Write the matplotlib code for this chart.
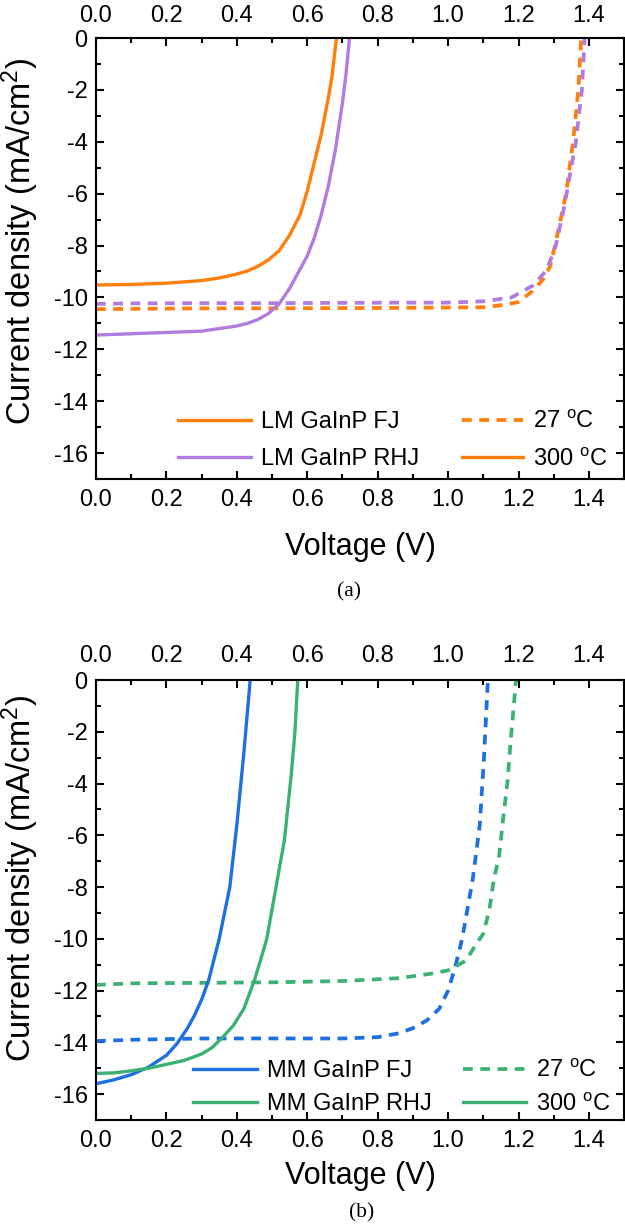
import numpy as np
import matplotlib
matplotlib.use("Agg")
import matplotlib.pyplot as plt
from matplotlib.ticker import MultipleLocator

plt.rcParams['font.family'] = ['Liberation Sans', 'DejaVu Sans']
plt.rcParams['mathtext.fontset'] = 'custom'
plt.rcParams['mathtext.rm'] = 'Liberation Sans'
plt.rcParams['mathtext.it'] = 'Liberation Sans:italic'

# ---- panel (a): lattice matched GaInP ----
v_lm_fj_27 = [0.0, 0.1, 0.3, 0.5, 0.7, 0.9, 1.1, 1.15, 1.2, 1.24, 1.27, 1.29, 1.31, 1.335, 1.355, 1.37, 1.378]
j_lm_fj_27 = [-10.45, -10.44, -10.42, -10.42, -10.41, -10.4, -10.38, -10.3, -10.18, -9.75, -9.3, -8.8, -7.6, -6.0, -4.0, -2.0, 0.0]
v_lm_rhj_27 = [0.0, 0.1, 0.3, 0.5, 0.7, 0.9, 1.0, 1.1, 1.18, 1.24, 1.28, 1.306, 1.33, 1.363, 1.38, 1.388]
j_lm_rhj_27 = [-10.25, -10.23, -10.22, -10.22, -10.21, -10.2, -10.2, -10.15, -10.0, -9.55, -8.95, -8.0, -6.5, -4.0, -2.0, 0.0]
v_lm_fj_300 = [0.0, 0.1, 0.2, 0.3, 0.35, 0.4, 0.43, 0.46, 0.49, 0.52, 0.55, 0.58, 0.6, 0.62, 0.64, 0.66, 0.67, 0.683]
j_lm_fj_300 = [-9.52, -9.5, -9.45, -9.35, -9.25, -9.1, -8.98, -8.8, -8.55, -8.2, -7.6, -6.8, -5.9, -4.8, -3.7, -2.3, -1.5, 0.0]
v_lm_rhj_300 = [0.0, 0.1, 0.2, 0.3, 0.35, 0.4, 0.43, 0.46, 0.49, 0.52, 0.55, 0.58, 0.6, 0.62, 0.64, 0.66, 0.68, 0.7, 0.71, 0.72]
j_lm_rhj_300 = [-11.45, -11.4, -11.35, -11.3, -11.2, -11.1, -11.0, -10.85, -10.62, -10.25, -9.65, -8.9, -8.4, -7.7, -6.8, -5.7, -4.3, -2.5, -1.4, 0.0]

# ---- panel (b): metamorphic GaInP ----
v_mm_fj_27 = [0.0, 0.1, 0.3, 0.5, 0.7, 0.8, 0.86, 0.9, 0.94, 0.975, 1.0, 1.02, 1.04, 1.07, 1.09, 1.102, 1.113]
j_mm_fj_27 = [-13.95, -13.9, -13.85, -13.85, -13.85, -13.8, -13.65, -13.45, -13.15, -12.7, -12.0, -11.1, -10.0, -7.7, -5.6, -3.0, 0.0]
v_mm_rhj_27 = [0.0, 0.1, 0.3, 0.5, 0.7, 0.86, 0.95, 1.0, 1.05, 1.08, 1.1, 1.117, 1.13, 1.145, 1.156, 1.169, 1.178, 1.193]
j_mm_rhj_27 = [-11.78, -11.72, -11.7, -11.68, -11.63, -11.52, -11.35, -11.22, -10.85, -10.2, -9.8, -8.9, -7.7, -6.8, -5.4, -3.9, -2.3, 0.0]
v_mm_fj_300 = [0.0, 0.05, 0.1, 0.15, 0.2, 0.23, 0.26, 0.28, 0.3, 0.32, 0.35, 0.38, 0.4, 0.42, 0.438]
j_mm_fj_300 = [-15.6, -15.45, -15.25, -14.95, -14.5, -14.05, -13.45, -12.95, -12.35, -11.6, -10.0, -8.0, -5.6, -2.8, 0.0]
v_mm_rhj_300 = [0.0, 0.05, 0.1, 0.15, 0.2, 0.25, 0.3, 0.33, 0.36, 0.39, 0.42, 0.45, 0.47, 0.485, 0.51, 0.535, 0.555, 0.565, 0.573]
j_mm_rhj_300 = [-15.2, -15.18, -15.1, -15.0, -14.85, -14.7, -14.45, -14.2, -13.8, -13.35, -12.7, -11.6, -10.7, -10.0, -8.1, -6.2, -3.6, -2.0, 0.0]

orange = '#FF7F0A'
purple = '#B07CE0'
blue = '#1E6FE0'
green = '#3BB273'
dash = (0, (2.6, 2.0))
deg = ' $^{\\mathrm{o}}$C'

fig = plt.figure(figsize=(6.25, 12.27), dpi=100)
ax_a = fig.add_axes([0.1536, 0.6096, 0.845, 0.3594])
ax_b = fig.add_axes([0.1536, 0.0872, 0.845, 0.3586])
xt = np.arange(0, 1.41, 0.2)


def style_axes(ax, top_pad):
    ax.set_xlim(0, 1.5)
    ax.set_ylim(-17, 0)
    ax.xaxis.set_minor_locator(MultipleLocator(0.1))
    ax.yaxis.set_major_locator(MultipleLocator(2))
    ax.yaxis.set_minor_locator(MultipleLocator(1))
    ax.tick_params(which='both', direction='in', top=True, right=True,
                   width=1.5, labelsize=17)
    ax.tick_params(which='major', length=6)
    ax.tick_params(which='minor', length=3.5)
    ax.tick_params(axis='x', which='major', pad=7.5)
    ax.tick_params(axis='y', which='major', pad=6)
    for s in ax.spines.values():
        s.set_linewidth(1.5)
    ax.set_xticks(xt)
    ax.set_xticklabels([f'{t:.1f}' for t in xt])
    ax.set_yticks(np.arange(-16, 1, 2))
    ax.set_yticklabels([f'{int(t)}' for t in np.arange(-16, 1, 2)])
    top = ax.secondary_xaxis('top')
    top.set_xticks(xt)
    top.set_xticklabels([f'{t:.1f}' for t in xt])
    top.tick_params(length=0, labelsize=17, pad=top_pad)
    top.spines['top'].set_visible(False)
    ax.set_ylabel('Current density (mA/cm$^2$)', fontsize=23.5)
    ax.set_xlabel('Voltage (V)', fontsize=22, va='top')


def two_legends(ax, h1, lab1, h2, lab2, x1, x2, ymid, hl1, hl2, spacing):
    kw = dict(loc='center left', frameon=False, fontsize=17, handletextpad=0.42,
              borderpad=0, borderaxespad=0, labelspacing=spacing)
    leg1 = ax.legend(h1, lab1, bbox_to_anchor=(x1, ymid), handlelength=hl1, **kw)
    ax.add_artist(leg1)
    ax.legend(h2, lab2, bbox_to_anchor=(x2, ymid), handlelength=hl2, **kw)


# panel (a)
l1, = ax_a.plot(v_lm_fj_27, j_lm_fj_27, color=orange, lw=2.7, ls=dash)
l2, = ax_a.plot(v_lm_rhj_27, j_lm_rhj_27, color=purple, lw=2.7, ls=dash)
l3, = ax_a.plot(v_lm_fj_300, j_lm_fj_300, color=orange, lw=2.4)
l4, = ax_a.plot(v_lm_rhj_300, j_lm_rhj_300, color=purple, lw=2.4)
style_axes(ax_a, 8)
ax_a.xaxis.set_label_coords(0.5, -0.12)
ax_a.yaxis.set_label_coords(-0.104, 0.54)
two_legends(ax_a, [l3, l4], ['LM GaInP FJ', 'LM GaInP RHJ'],
            [l1, l3], ['27' + deg, '300' + deg],
            0.155, 0.693, 0.087, 3.1, 2.6, 0.66)

# panel (b)
m1, = ax_b.plot(v_mm_fj_27, j_mm_fj_27, color=blue, lw=2.7, ls=dash)
m2, = ax_b.plot(v_mm_rhj_27, j_mm_rhj_27, color=green, lw=2.7, ls=dash)
m3, = ax_b.plot(v_mm_fj_300, j_mm_fj_300, color=blue, lw=2.4)
m4, = ax_b.plot(v_mm_rhj_300, j_mm_rhj_300, color=green, lw=2.4)
style_axes(ax_b, 9.5)
ax_b.xaxis.set_label_coords(0.5, -0.094)
ax_b.yaxis.set_label_coords(-0.104, 0.55)
two_legends(ax_b, [m3, m4], ['MM GaInP FJ', 'MM GaInP RHJ'],
            [m2, m4], ['27' + deg, '300' + deg],
            0.184, 0.695, 0.073, 2.7, 2.65, 0.46)

fig.text(0.558, 1 - 592 / 1227, '(a)', family='Liberation Serif', fontsize=15.5, ha='center', va='center')
fig.text(0.578, 1 - 1213 / 1227, '(b)', family='Liberation Serif', fontsize=15.5, ha='center', va='center')

fig.savefig('out.png', dpi=100)
